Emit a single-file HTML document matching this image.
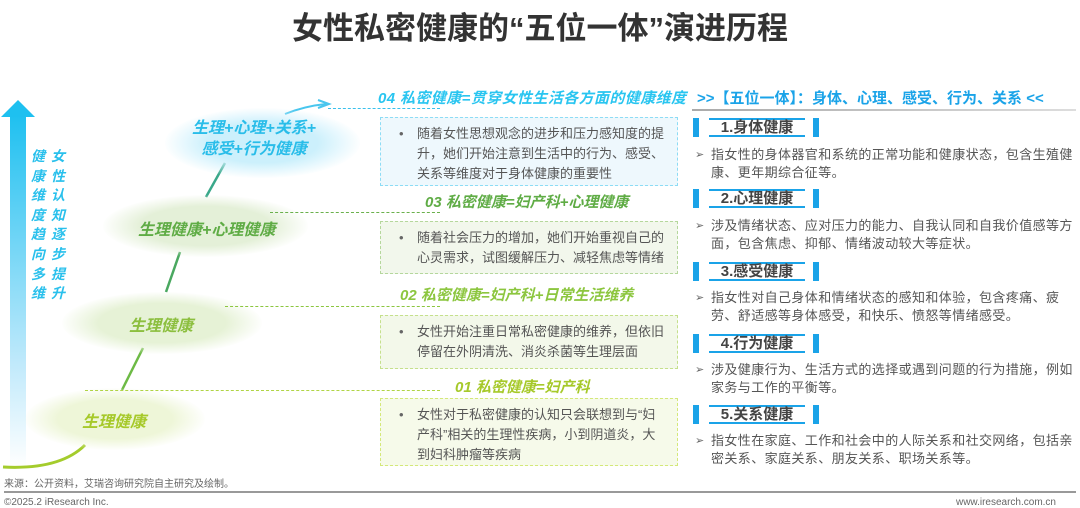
<!DOCTYPE html>
<html><head><meta charset="utf-8"><style>
*{margin:0;padding:0;box-sizing:border-box}
body{width:1080px;height:508px;background:#fff;position:relative;overflow:hidden;font-family:"Liberation Sans","Noto Sans CJK SC",sans-serif;color:#555}
.a{position:absolute;white-space:nowrap}
.t{font-weight:bold;font-style:italic;font-size:15px}
.box{position:absolute;left:380px;width:298px;border:1.5px dashed;padding:6px 10px 0 36px;font-size:13px;line-height:20px;color:#555}
.box:before{content:"•";position:absolute;left:18px;top:6px;color:#666}
.dl{position:absolute;height:0;border-top:1.5px dashed}
.badge{position:absolute;left:693px;width:126px;height:19px}
.badge .l,.badge .r{position:absolute;top:0;width:6px;height:19px;background:#1aa3e8}
.badge .l{left:0}
.badge .r{right:0}
.badge .m{position:absolute;left:16px;right:14px;top:0;height:19px;border-top:2px solid #1aa3e8;border-bottom:2px solid #1aa3e8;text-align:center;font-weight:bold;font-size:15px;line-height:15px;color:#444}
.p{position:absolute;left:695px;width:382px;font-size:13px;line-height:18px;color:#555;padding-left:16px;letter-spacing:0.4px}
.p:before{content:"➢";position:absolute;left:0;top:0;font-size:11px;color:#666}
.el{position:absolute;border-radius:50%}
</style></head><body>
<div class="a" style="left:0;width:1080px;top:3px;text-align:center;font-size:31px;font-weight:bold;color:#333">女性私密健康的“五位一体”演进历程</div>

<div class="a" style="left:10px;top:114px;width:16px;height:354px;background:linear-gradient(#1ec0f0,#bfe9fb 70%,#fff)"></div>
<div class="a" style="left:1px;top:100px;width:0;height:0;border-left:17px solid transparent;border-right:17px solid transparent;border-bottom:17px solid #1ec0f0"></div>
<div class="a" style="left:31px;top:147px;font-size:14px;line-height:19.6px;font-weight:bold;font-style:italic;color:#29c0ec;white-space:normal;width:16px">健康维度趋向多维</div>
<div class="a" style="left:51px;top:147px;font-size:14px;line-height:19.6px;font-weight:bold;font-style:italic;color:#29c0ec;white-space:normal;width:16px">女性认知逐步提升</div>

<svg class="a" style="left:0;top:0" width="380" height="480">
<path d="M3 467 Q60 470 85 445" stroke="#a4cc2c" stroke-width="3" fill="none"/>
<line x1="122" y1="390" x2="143" y2="348" stroke="#6dba45" stroke-width="2.5"/>
<line x1="166" y1="292" x2="180" y2="252" stroke="#4aa860" stroke-width="2.5"/>
<line x1="206" y1="197" x2="225" y2="163" stroke="#3aa88a" stroke-width="2.5"/>
<path d="M285 114 Q305 106 326 104" stroke="#49c6ee" stroke-width="2" fill="none"/>
<path d="M318 100 L329 104 L318 108" stroke="#49c6ee" stroke-width="2" fill="none"/>
</svg>

<div class="el" style="left:25px;top:388px;width:180px;height:62px;background:radial-gradient(ellipse,#eef6d8 45%,rgba(240,248,220,0) 72%)"></div>
<div class="el" style="left:62px;top:292px;width:200px;height:62px;background:radial-gradient(ellipse,#e6f2d6 45%,rgba(240,248,220,0) 72%)"></div>
<div class="el" style="left:103px;top:195px;width:205px;height:62px;background:radial-gradient(ellipse,#e4f0d8 45%,rgba(240,248,220,0) 72%)"></div>
<div class="el" style="left:165px;top:108px;width:195px;height:70px;background:radial-gradient(ellipse,#ccf0fc 40%,rgba(220,245,255,0) 72%)"></div>
<div class="a t" style="left:82px;top:408px;color:#a6c92a;font-size:16px">生理健康</div>
<div class="a t" style="left:129px;top:312px;color:#8cbf3f;font-size:16px">生理健康</div>
<div class="a t" style="left:138px;top:216px;color:#5fac45;font-size:16px">生理健康+心理健康</div>
<div class="a t" style="left:186px;top:118px;color:#29bde9;text-align:center;line-height:21px;width:136px;font-size:16px">生理+心理+关系+<br>感受+行为健康</div>

<div class="dl" style="left:328px;top:108px;width:112px;border-color:#39c0ec"></div>
<div class="dl" style="left:270px;top:212px;width:170px;border-color:#6ab04c"></div>
<div class="dl" style="left:225px;top:306px;width:215px;border-color:#8cc63f"></div>
<div class="dl" style="left:85px;top:390px;width:355px;border-color:#b0d445"></div>

<div class="a t" style="left:378px;top:87px;color:#29c5f0;letter-spacing:0.4px">04 私密健康=贯穿女性生活各方面的健康维度</div>
<div class="a t" style="left:425px;top:191px;color:#5fac45">03 私密健康=妇产科+心理健康</div>
<div class="a t" style="left:400px;top:284px;color:#8cc63f">02 私密健康=妇产科+日常生活维养</div>
<div class="a t" style="left:455px;top:376px;color:#a6c92a">01 私密健康=妇产科</div>

<div class="box" style="top:117px;height:69px;border-color:#8ddcf5;background:#eef8fd">随着女性思想观念的进步和压力感知度的提升，她们开始注意到生活中的行为、感受、关系等维度对于身体健康的重要性</div>
<div class="box" style="top:221px;height:53px;border-color:#b5d79c;background:#f2f7ec">随着社会压力的增加，她们开始重视自己的心灵需求，试图缓解压力、减轻焦虑等情绪</div>
<div class="box" style="top:315px;height:54px;border-color:#c5e08c;background:#f3f8ea">女性开始注重日常私密健康的维养，但依旧停留在外阴清洗、消炎杀菌等生理层面</div>
<div class="box" style="top:398px;height:68px;border-color:#d4e87a;background:#f6faea">女性对于私密健康的认知只会联想到与“妇产科”相关的生理性疾病，小到阴道炎，大到妇科肿瘤等疾病</div>

<div class="a" style="left:697px;top:87px;font-size:15px;font-weight:bold;color:#1aa3e8">&gt;&gt;【五位一体】：身体、心理、感受、行为、关系 &lt;&lt;</div>
<div class="a" style="left:692px;top:109px;width:384px;height:2px;background:linear-gradient(90deg,#aaa,#ddd)"></div>

<div class="badge" style="top:118px"><div class="l"></div><div class="m">1.身体健康</div><div class="r"></div></div>
<div class="p" style="top:146px">指女性的身体器官和系统的正常功能和健康状态，包含生殖健康、更年期综合征等。</div>
<div class="badge" style="top:189px"><div class="l"></div><div class="m">2.心理健康</div><div class="r"></div></div>
<div class="p" style="top:217px">涉及情绪状态、应对压力的能力、自我认同和自我价值感等方面，包含焦虑、抑郁、情绪波动较大等症状。</div>
<div class="badge" style="top:262px"><div class="l"></div><div class="m">3.感受健康</div><div class="r"></div></div>
<div class="p" style="top:289px">指女性对自己身体和情绪状态的感知和体验，包含疼痛、疲劳、舒适感等身体感受，和快乐、愤怒等情绪感受。</div>
<div class="badge" style="top:334px"><div class="l"></div><div class="m">4.行为健康</div><div class="r"></div></div>
<div class="p" style="top:361px">涉及健康行为、生活方式的选择或遇到问题的行为措施，例如家务与工作的平衡等。</div>
<div class="badge" style="top:405px"><div class="l"></div><div class="m">5.关系健康</div><div class="r"></div></div>
<div class="p" style="top:432px">指女性在家庭、工作和社会中的人际关系和社交网络，包括亲密关系、家庭关系、朋友关系、职场关系等。</div>

<div class="a" style="left:4px;top:475px;font-size:10px;color:#666">来源：公开资料，艾瑞咨询研究院自主研究及绘制。</div>
<div class="a" style="left:4px;top:491px;width:1072px;height:2px;background:#999"></div>
<div class="a" style="left:4px;top:497px;font-size:10px;color:#666">©2025.2 iResearch Inc.</div>
<div class="a" style="right:24px;top:497px;font-size:10px;color:#666">www.iresearch.com.cn</div>
</body></html>
